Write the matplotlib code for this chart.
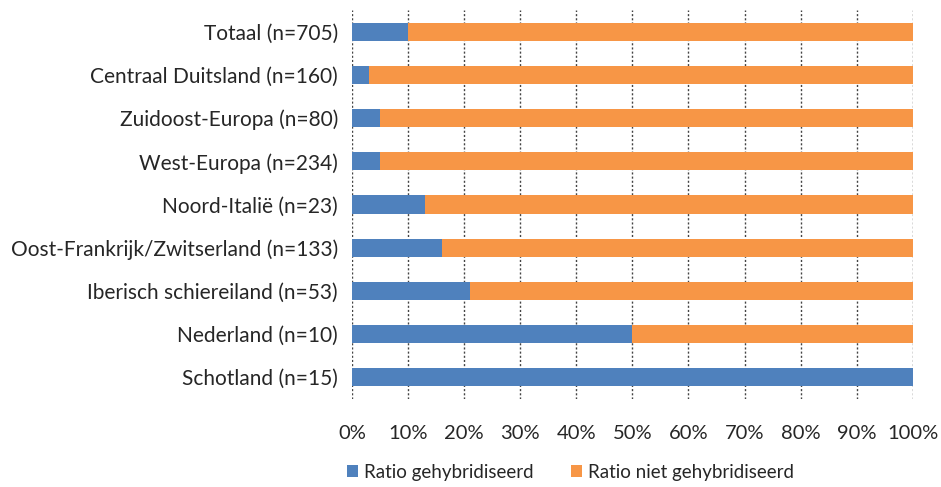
import numpy as np
import matplotlib.pyplot as plt

plt.rcParams['font.family'] = ['Lato', 'DejaVu Sans']

# Data (top to bottom as in the chart)
categories = ['Totaal (n=705)', 'Centraal Duitsland (n=160)', 'Zuidoost-Europa (n=80)',
              'West-Europa (n=234)', 'Noord-Italië (n=23)', 'Oost-Frankrijk/Zwitserland (n=133)',
              'Iberisch schiereiland (n=53)', 'Nederland (n=10)', 'Schotland (n=15)']
gehybridiseerd = [10, 3, 5, 5, 13, 16, 21, 50, 100]
niet_gehybridiseerd = [100 - v for v in gehybridiseerd]

blue = '#4F81BD'
orange = '#F79646'

fig = plt.figure(figsize=(9.41, 4.87), dpi=100)
ax = fig.add_axes([0.374, 0.181, 0.596, 0.798])

y = np.arange(len(categories))[::-1]
ax.barh(y, gehybridiseerd, height=0.42, color=blue, label='Ratio gehybridiseerd')
ax.barh(y, niet_gehybridiseerd, left=gehybridiseerd, height=0.42, color=orange,
        label='Ratio niet gehybridiseerd')

ax.set_xlim(0, 100)
ax.set_ylim(-0.5, len(categories) - 0.5)
ax.set_xticks(np.arange(0, 101, 10))
ax.set_xticklabels([f'{v}%' for v in range(0, 101, 10)])
ax.set_yticks(y)
ax.set_yticklabels(categories)

ax.set_axisbelow(True)
ax.grid(axis='x', color='#444444', linestyle=(0, (1.5, 1.5)), linewidth=1)
for s in ax.spines.values():
    s.set_visible(False)
ax.tick_params(axis='both', length=0, colors='#262626')
ax.tick_params(axis='y', pad=10, labelsize=15)
ax.tick_params(axis='x', pad=19, labelsize=14.5)

fig.legend(loc='center', bbox_to_anchor=(0.606, 0.03), ncol=2, frameon=False,
           fontsize=13.5, handlelength=0.6, handleheight=0.6, handletextpad=0.3,
           columnspacing=2.0, labelcolor='#262626')

fig.savefig('out.png', dpi=100)
